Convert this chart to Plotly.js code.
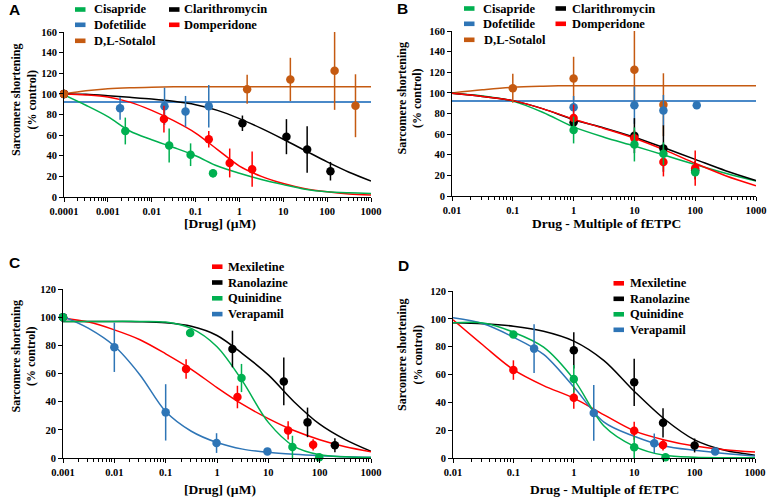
<!DOCTYPE html>
<html>
<head>
<meta charset="utf-8">
<script src="https://cdn.plot.ly/plotly-3.0.1.min.js"></script>
<style>
    html, body { margin: 0; padding: 0; background: #fff; }
    #chart { width: 769px; height: 503px; }
</style>
</head>
<body>
<div id="chart"></div>
<script>
// ---- 色 ----
const GREEN = '#00B050';
const BLUE = '#2E75B6';
const ORANGE = '#C55A11';
const RED = '#FF0000';
const BLACK = '#000000';

// ---- パネル A/B: 薬剤データ ----
const namesAB = ['Cisapride', 'Dofetilide', 'D,L-Sotalol', 'Clarithromycin', 'Domperidone'];

// A: 濃度 (µM)、先頭は対照 (100%)
const cisaprideDose = [0.0001, 0.0025, 0.025, 0.077, 0.25];
const cisaprideResp = [100, 64, 50, 41, 23];
const cisaprideErr = [0, 13, 16.5, 11, 4];
const dofetilideDose = [0.0001, 0.0019, 0.0196, 0.059, 0.2];
const dofetilideResp = [100, 86, 88, 83, 88];
const dofetilideErr = [0, 11, 18, 15, 20.5];
const sotalolDose = [0.0001, 1.5, 14.5, 148, 443];
const sotalolResp = [100, 104.5, 114, 122.5, 88.5];
const sotalolErr = [0, 14, 21, 38, 30.5];
const clarithroDose = [0.0001, 1.17, 11.8, 35, 119];
const clarithroResp = [100, 71.5, 58.5, 46, 25];
const clarithroErr = [0, 7.5, 17, 22.5, 9];
const domperidoneDose = [0.0001, 0.019, 0.2, 0.6, 1.95];
const domperidoneResp = [100, 75.6, 56, 33, 27];
const domperidoneErr = [0, 13, 8, 14, 17];

// B: fETPC の倍数
const cisaprideMult = [1, 10, 30, 100];
const dofetilideMult = [1, 10, 30, 106];
const dofetilideErrB = [11, 18, 15, 0];
const sotalolMult = [0.1, 1, 10, 30];
const clarithroMult = [1, 10, 30, 100];
const domperidoneMult = [1, 10, 30, 100];

// フィット曲線 (半桁ごとに図から読み取り)
const fitDoseA = [0.0001, 0.000316, 0.001, 0.00316, 0.01, 0.0316, 0.1, 0.316, 1, 3.16, 10, 31.6, 100, 316, 1000];
const cisaprideFitA = [99, 89, 78, 64, 55.5, 48, 40, 30, 23, 17, 12, 7.5, 5, 4, 3.5];
const dofetilideFitA = [92, 92, 92, 92, 92, 92, 92, 92, 92, 92, 92, 92, 92, 92, 92];
const sotalolFitA = [100, 103, 105, 106, 106.5, 106.8, 107, 107, 107, 107, 107, 107, 107, 107, 107];
const clarithroFitA = [100, 99.6, 98.3, 96.7, 95, 92.8, 89.5, 84, 76, 66.5, 56, 45, 34, 24, 15.5];
const domperidoneFitA = [100, 99, 97, 92, 84, 74, 62, 46, 30, 20, 13, 8, 5, 3, 2];

const fitMultB = [0.01, 0.0316, 0.1, 0.316, 1, 3.16, 10, 31.6, 100, 316, 1000];
const cisaprideFitB = [99.6, 97, 92, 81, 67, 57, 48.5, 39.5, 30.5, 22, 14.5];
const dofetilideFitB = [92, 92, 92, 92, 92, 92, 92, 92, 92, 92, 92];
const sotalolFitB = [100, 103, 105.5, 106.5, 107, 107, 107, 107, 107, 107, 107];
const clarithroFitB = [99.6, 96.5, 92.5, 84.5, 74, 66, 57, 46.5, 35.5, 24.5, 15];
const domperidoneFitB = [99.6, 96.5, 92.5, 84.5, 74.5, 65.5, 56, 44.5, 31.7, 19.7, 10];

// ---- パネル C/D: 薬剤データ ----
const namesCD = ['Mexiletine', 'Ranolazine', 'Quinidine', 'Verapamil'];

const mexiletineDose = [0.001, 0.25, 2.5, 24.3, 74.6];
const mexiletineResp = [100, 63.2, 43.3, 19.6, 9.4];
const mexiletineErr = [0, 7, 8, 6.5, 4];
const ranolazineDose = [0.001, 2, 20, 58, 198];
const ranolazineResp = [100, 77.4, 54.4, 25.3, 9];
const ranolazineErr = [0, 13, 17, 10.5, 5];
const quinidineDose = [0.001, 0.3, 3, 29.5, 98];
const quinidineResp = [100, 88.8, 56.8, 7.8, 0.5];
const quinidineErr = [0, 0, 10, 8, 0];
const verapamilDose = [0.001, 0.01, 0.1, 0.98, 9.6];
const verapamilResp = [100, 78.6, 32.4, 10.6, 4.7];
const verapamilErr = [0, 17.5, 20, 7, 0];

const mexiletineMult = [0.1, 1, 10, 30];
const ranolazineMult = [1, 10, 30, 100];
const quinidineMult = [0.1, 1, 10, 33];
const verapamilMult = [0.22, 2.14, 21.5, 219];

const fitDoseC = [0.001, 0.00316, 0.01, 0.0316, 0.1, 0.316, 1, 3.16, 10, 31.6, 100, 316, 1000];
const mexiletineFitC = [99.5, 96.5, 91, 84, 74, 63, 50, 38, 28, 19.5, 13, 8, 4.5];
const ranolazineFitC = [97, 97, 97, 96.8, 96, 93.5, 87, 74, 59, 40, 24, 13, 4.7];
const quinidineFitC = [97, 97, 97, 97, 96.5, 92, 79, 54.4, 25.3, 8.3, 2.3, 0.8, 0.3];
const verapamilFitC = [100.5, 92, 79.5, 59, 33, 19, 11, 6.3, 4, 2.6, 1.6, 0.9, 0.5];

const fitMultD = [0.01, 0.0316, 0.1, 0.316, 1, 3.16, 10, 31.6, 100, 316, 1000];
const mexiletineFitD = [99.3, 81, 63.5, 52, 43, 31, 19.5, 13, 8.6, 6, 4.3];
const ranolazineFitD = [97.1, 96.4, 94.7, 91.1, 84, 70, 48, 28, 13, 5.5, 2];
const quinidineFitD = [97.1, 97, 90.4, 79.6, 56.5, 23, 8.4, 1.9, 0.5, 0.2, 0.1];
const verapamilFitD = [100.7, 96.4, 86.8, 74.4, 51, 25.8, 15.6, 8.6, 5.5, 3.2, 1.5];

// ---- 軸の目盛 ----
const tickValsA = [0.0001, 0.001, 0.01, 0.1, 1, 10, 100, 1000];
const tickTextA = ['0.0001', '0.001', '0.01', '0.1', '1', '10', '100', '1000'];
const tickValsB = [0.01, 0.1, 1, 10, 100, 1000];
const tickTextB = ['0.01', '0.1', '1', '10', '100', '1000'];
const tickValsC = [0.001, 0.01, 0.1, 1, 10, 100, 1000];
const tickTextC = ['0.001', '0.01', '0.1', '1', '10', '100', '1000'];

const W = 769, H = 503;
const px = x => x / W;
const py = y => 1 - y / H;

const SERIF = 'Liberation Serif, Times New Roman, serif';
const SANS = 'Liberation Sans, Arial, sans-serif';

/**
 * 対数軸の補助目盛 (2〜9) の位置
 */
function minorTicks(vals) {
    const out = [];
    for (let i = 0; i < vals.length - 1; i++) {
        for (let m = 2; m <= 9; m++) out.push(vals[i] * m);
    }
    return out;
}

function logAxis(x0, x1, vals, text, anchor) {
    return {
        domain: [px(x0), px(x1)],
        type: 'log',
        range: [Math.log10(vals[0]), Math.log10(vals[vals.length - 1])],
        tickmode: 'array',
        tickvals: vals,
        ticktext: text,
        ticks: 'outside',
        ticklen: 4,
        tickwidth: 1,
        tickcolor: '#000',
        showline: true,
        linecolor: '#000',
        linewidth: 1,
        showgrid: false,
        zeroline: false,
        anchor: anchor,
        tickfont: { family: SERIF, size: 10.5, color: '#000', weight: 'bold' },
        minor: { tickmode: 'array', tickvals: minorTicks(vals), ticks: 'outside', ticklen: 2.5, tickcolor: '#000', showgrid: false },
        fixedrange: true
    };
}

function linAxis(yBottom, yTop, max, anchor) {
    return {
        domain: [py(yBottom), py(yTop)],
        range: [0, max],
        dtick: 20,
        ticks: 'outside',
        ticklen: 4,
        tickwidth: 1,
        tickcolor: '#000',
        showline: true,
        linecolor: '#000',
        linewidth: 1,
        showgrid: false,
        zeroline: false,
        anchor: anchor,
        tickfont: { family: SERIF, size: 10.5, color: '#000', weight: 'bold' },
        fixedrange: true
    };
}

function fitTrace(xs, ys, color, ax, width) {
    return {
        x: xs, y: ys, type: 'scatter', mode: 'lines',
        line: { color: color, width: width || 1.5, shape: 'spline', smoothing: 0.9 },
        xaxis: 'x' + ax, yaxis: 'y' + ax, hoverinfo: 'skip', showlegend: false
    };
}

function pointTrace(xs, ys, errs, color, ax) {
    return {
        x: xs, y: ys, type: 'scatter', mode: 'markers',
        marker: { color: color, size: 8.5 },
        error_y: { type: 'data', array: errs, visible: true, color: color, thickness: 1.5, width: 0 },
        cliponaxis: false,
        xaxis: 'x' + ax, yaxis: 'y' + ax, showlegend: false
    };
}

const traces = [
    // A
    fitTrace(fitDoseA, sotalolFitA, ORANGE, ''),
    fitTrace(fitDoseA, dofetilideFitA, '#4A89C8', '', 2),
    fitTrace(fitDoseA, clarithroFitA, BLACK, ''),
    fitTrace(fitDoseA, domperidoneFitA, RED, ''),
    fitTrace(fitDoseA, cisaprideFitA, GREEN, ''),
    pointTrace(cisaprideDose, cisaprideResp, cisaprideErr, GREEN, ''),
    pointTrace(dofetilideDose, dofetilideResp, dofetilideErr, BLUE, ''),
    pointTrace(clarithroDose, clarithroResp, clarithroErr, BLACK, ''),
    pointTrace(domperidoneDose, domperidoneResp, domperidoneErr, RED, ''),
    pointTrace(sotalolDose, sotalolResp, sotalolErr, ORANGE, ''),
    // B
    fitTrace(fitMultB, sotalolFitB, ORANGE, '2'),
    fitTrace(fitMultB, dofetilideFitB, '#4A89C8', '2', 2),
    fitTrace(fitMultB, cisaprideFitB, GREEN, '2'),
    fitTrace(fitMultB, clarithroFitB, BLACK, '2'),
    fitTrace(fitMultB, domperidoneFitB, RED, '2'),
    pointTrace(sotalolMult, sotalolResp.slice(1), sotalolErr.slice(1), ORANGE, '2'),
    pointTrace(dofetilideMult, dofetilideResp.slice(1), dofetilideErrB, BLUE, '2'),
    pointTrace(clarithroMult, clarithroResp.slice(1), clarithroErr.slice(1), BLACK, '2'),
    pointTrace(domperidoneMult, domperidoneResp.slice(1), domperidoneErr.slice(1), RED, '2'),
    pointTrace(cisaprideMult, cisaprideResp.slice(1), cisaprideErr.slice(1), GREEN, '2'),
    // C
    fitTrace(fitDoseC, ranolazineFitC, BLACK, '3'),
    fitTrace(fitDoseC, mexiletineFitC, RED, '3'),
    fitTrace(fitDoseC, verapamilFitC, BLUE, '3'),
    fitTrace(fitDoseC, quinidineFitC, GREEN, '3'),
    pointTrace(mexiletineDose, mexiletineResp, mexiletineErr, RED, '3'),
    pointTrace(ranolazineDose, ranolazineResp, ranolazineErr, BLACK, '3'),
    pointTrace(verapamilDose, verapamilResp, verapamilErr, BLUE, '3'),
    pointTrace(quinidineDose, quinidineResp, quinidineErr, GREEN, '3'),
    // D
    fitTrace(fitMultD, ranolazineFitD, BLACK, '4'),
    fitTrace(fitMultD, mexiletineFitD, RED, '4'),
    fitTrace(fitMultD, verapamilFitD, BLUE, '4'),
    fitTrace(fitMultD, quinidineFitD, GREEN, '4'),
    pointTrace(mexiletineMult, mexiletineResp.slice(1), mexiletineErr.slice(1), RED, '4'),
    pointTrace(ranolazineMult, ranolazineResp.slice(1), ranolazineErr.slice(1), BLACK, '4'),
    pointTrace(verapamilMult, verapamilResp.slice(1), verapamilErr.slice(1), BLUE, '4'),
    pointTrace(quinidineMult, quinidineResp.slice(1), quinidineErr.slice(1), GREEN, '4')
];

// ---- 凡例・ラベル (手描き) ----
const shapes = [];
const annotations = [];

function legendItem(rectX, textX, yc, color, label) {
    shapes.push({
        type: 'rect', xref: 'paper', yref: 'paper',
        x0: px(rectX), x1: px(rectX + 10.5), y0: py(yc + 2.3), y1: py(yc - 2.3),
        fillcolor: color, line: { width: 0 }
    });
    annotations.push({
        xref: 'paper', yref: 'paper', x: px(textX), y: py(yc), xanchor: 'left', yanchor: 'middle',
        text: label, showarrow: false, borderpad: 0,
        font: { family: SERIF, size: 12.5, color: '#000', weight: 'bold' }
    });
}

function label(x, y, text, size, family, angle) {
    annotations.push({
        xref: 'paper', yref: 'paper', x: px(x), y: py(y), xanchor: 'center', yanchor: 'middle',
        text: text, showarrow: false, textangle: angle || 0, borderpad: 0,
        font: { family: family, size: size, color: '#000', weight: 'bold' }
    });
}

const colorsAB = [GREEN, BLUE, ORANGE, BLACK, RED];
const rowsAB = [9.5, 24.8, 40.8];
namesAB.forEach((n, i) => {
    const col = i < 3 ? 0 : 1;
    const row = i < 3 ? i : i - 3;
    legendItem(col ? 169 : 75, col ? 183 : 92.5, rowsAB[row], colorsAB[i], n);
    legendItem(col ? 555.5 : 464, col ? 571 : 482.5, rowsAB[row] - 1, colorsAB[i], n);
});

const colorsCD = [RED, BLACK, GREEN, BLUE];
namesCD.forEach((n, i) => {
    legendItem(212, 226.5, 266.7 + i * 15.8, colorsCD[i], n);
    legendItem(613.5, 629, 283.3 + i * 15.5, colorsCD[i], n);
});

const yTitle = 'Sarcomere shortening<br>(% control)';
label(23.5, 99.5, yTitle, 12, SERIF, -90);
label(409.5, 98, yTitle, 12, SERIF, -90);
label(23.5, 356, yTitle, 12, SERIF, -90);
label(410, 355, yTitle, 12, SERIF, -90);

label(220, 223.5, '[Drug] (µM)', 13.5, SERIF);
label(606, 223, 'Drug - Multiple of fETPC', 13.5, SERIF);
label(220, 489, '[Drug] (µM)', 13.5, SERIF);
label(604, 489, 'Drug - Multiple of fETPC', 13.5, SERIF);

label(14.2, 9.5, 'A', 15.5, SANS);
label(402.5, 8.8, 'B', 15.5, SANS);
label(14.2, 262.5, 'C', 15.5, SANS);
label(404, 265.3, 'D', 15.5, SANS);

const layout = {
    width: W,
    height: H,
    margin: { l: 0, r: 0, t: 0, b: 0 },
    paper_bgcolor: '#fff',
    plot_bgcolor: 'rgba(0,0,0,0)',
    showlegend: false,
    xaxis: logAxis(64, 371, tickValsA, tickTextA, 'y'),
    yaxis: linAxis(197, 32, 160, 'x'),
    xaxis2: logAxis(452, 756, tickValsB, tickTextB, 'y2'),
    yaxis2: linAxis(196, 31, 160, 'x2'),
    xaxis3: logAxis(63, 371, tickValsC, tickTextC, 'y3'),
    yaxis3: linAxis(458, 289, 120, 'x3'),
    xaxis4: logAxis(453, 755, tickValsB, tickTextB, 'y4'),
    yaxis4: linAxis(458, 291, 120, 'x4'),
    shapes: shapes,
    annotations: annotations
};

Plotly.newPlot('chart', traces, layout, { displayModeBar: false, staticPlot: true });
</script>
</body>
</html>
